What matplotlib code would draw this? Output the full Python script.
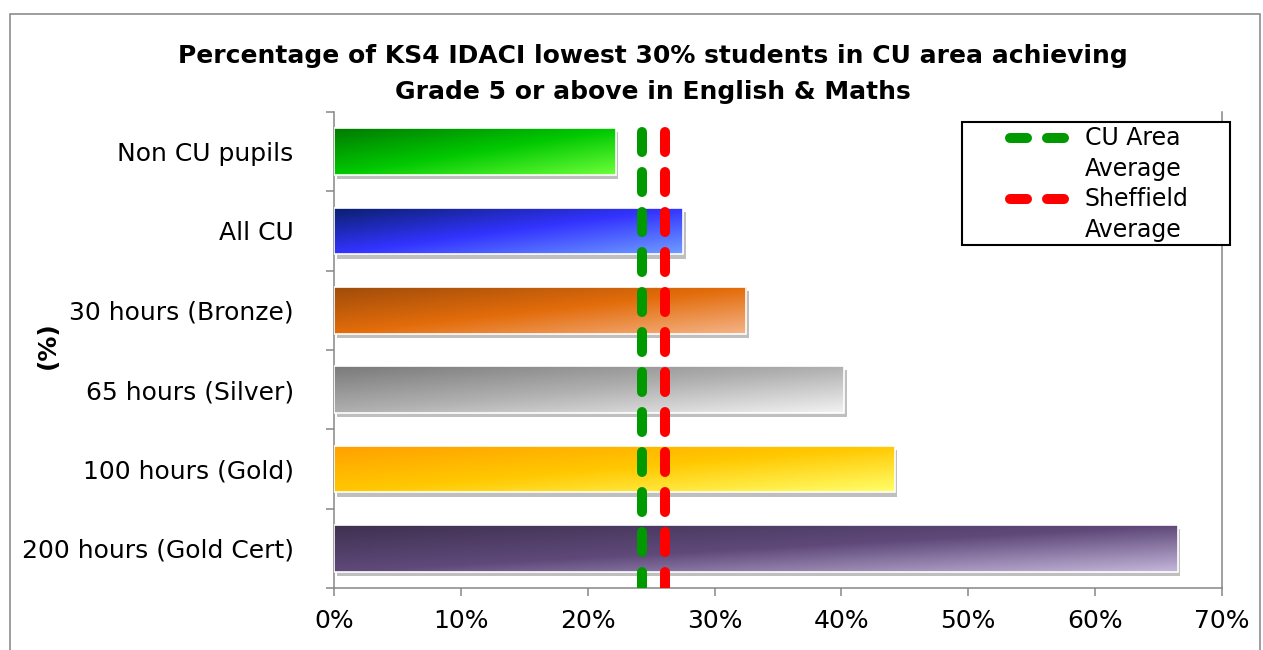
import matplotlib.pyplot as plt
import matplotlib.patheffects as pe
from matplotlib.colors import LinearSegmentedColormap
from matplotlib.lines import Line2D
from matplotlib.patches import Rectangle
import numpy as np

# data
categories = ['Non CU pupils', 'All CU', '30 hours (Bronze)', '65 hours (Silver)',
              '100 hours (Gold)', '200 hours (Gold Cert)']
values = [22.2, 27.5, 32.5, 40.2, 44.2, 66.5]
cu_avg = 24.3
sheffield_avg = 26.1
xticks = [0, 10, 20, 30, 40, 50, 60, 70]

# dark -> mid -> light colour stops for each bar
bar_stops = [
    ['#007a00', '#00c800', '#6cff3a'],
    ['#0a1f6b', '#3333ff', '#6f9dff'],
    ['#a04c0a', '#e36c0a', '#f4b488'],
    ['#7a7a7a', '#b0b0b0', '#f2f2f2'],
    ['#ffa000', '#ffc800', '#ffff6a'],
    ['#3f3151', '#5f497a', '#c4b6da'],
]

plt.rcParams['font.family'] = 'DejaVu Sans'
W, H = 1263, 650
fig = plt.figure(figsize=(W / 100, H / 100), dpi=100)

# outer chart border
fig.patches.append(Rectangle((10 / W, -0.1), 1250 / W, 1 - 14 / H + 0.1,
                             transform=fig.transFigure, fill=False,
                             edgecolor='#8c8c8c', lw=1.2))

ax = fig.add_axes([334 / W, 62 / H, (1222 - 334) / W, (588 - 112) / H])

bar_h = 0.59
grey = '#868686'
u, v = np.meshgrid(np.linspace(0, 1, 300), np.linspace(0, 1, 60))
t = 0.5 * u + 0.5 * v

bars = ax.barh(range(len(values)), values, height=bar_h, color='white',
               edgecolor='none', zorder=2)
for i, (b, stops) in enumerate(zip(bars, bar_stops)):
    b.set_path_effects([pe.SimplePatchShadow(offset=(2, -3), shadow_rgbFace='#606060',
                                             alpha=0.4), pe.Normal()])
    cmap = LinearSegmentedColormap.from_list(f'bar{i}', stops)
    im = ax.imshow(cmap(t), extent=(0, values[i], i + bar_h / 2, i - bar_h / 2),
                   aspect='auto', zorder=3, interpolation='bilinear')
    im.set_clip_path(b)
ax.barh(range(len(values)), values, height=bar_h, color='none',
        edgecolor='white', lw=1.2, zorder=4)

# average lines
for val, col in [(cu_avg, '#009900'), (sheffield_avg, '#ff0000')]:
    ax.plot([val, val], [-0.25, 5.6], color=col, lw=7.2, dashes=(2.0, 2.0),
            dash_capstyle='round', zorder=5)

ax.set_xlim(0, 70)
ax.set_ylim(5.5, -0.5)

ax.set_xticks(xticks)
ax.set_xticklabels([f'{x}%' for x in xticks], fontsize=18)
ax.set_yticks(range(len(categories)))
ax.set_yticklabels(categories, fontsize=18)
ax.set_yticks(np.arange(-0.5, len(categories), 1), minor=True)
ax.tick_params(axis='y', which='major', length=0, pad=29)
ax.tick_params(axis='y', which='minor', length=6, width=1.1, color=grey)
ax.tick_params(axis='x', length=6, width=1.1, color=grey, pad=9)

for s in ['left', 'bottom', 'right']:
    ax.spines[s].set_color(grey)
    ax.spines[s].set_linewidth(1.1)
ax.spines['top'].set_visible(False)

fig.text(48 / W, 1 - 345 / H, '(%)', rotation=90, fontsize=18, fontweight='bold',
         ha='center', va='center')

fig.text(653 / W, 1 - 74 / H,
         'Percentage of KS4 IDACI lowest 30% students in CU area achieving\n'
         'Grade 5 or above in English & Maths',
         fontsize=18, fontweight='bold', ha='center', va='center', linespacing=1.6)

# legend
fig.patches.append(Rectangle((962 / W, 1 - 245 / H), (1230 - 962) / W, (245 - 122) / H,
                             transform=fig.transFigure, facecolor='white',
                             edgecolor='black', lw=1.5, zorder=6))
for y, col, lab in [(138, '#009900', 'CU Area\nAverage'), (199, '#ff0000', 'Sheffield\nAverage')]:
    fig.lines.append(Line2D([1010 / W, 1064 / W], [1 - y / H, 1 - y / H],
                            transform=fig.transFigure, color=col, lw=7.2,
                            dashes=(1.7, 2.0), dash_capstyle='round', zorder=7))
    fig.text(1085 / W, 1 - (y - 12) / H, lab, fontsize=17, ha='left', va='top',
             linespacing=1.38, zorder=7)

fig.savefig('out.png', dpi=100)
